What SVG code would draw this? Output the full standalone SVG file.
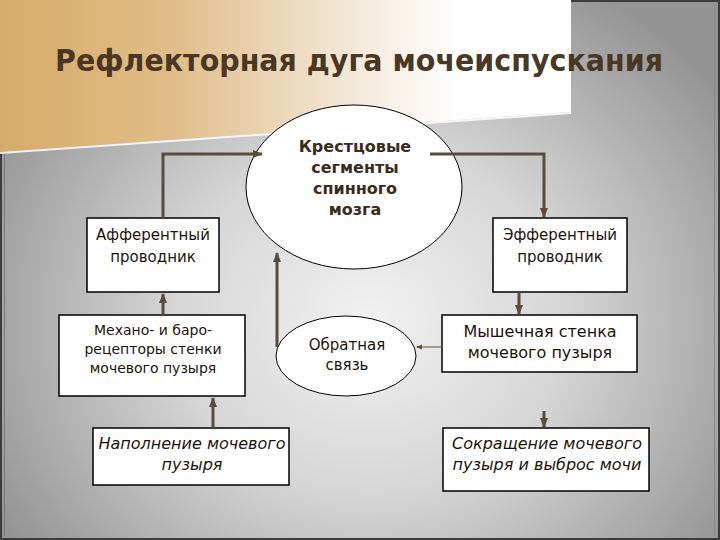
<svg xmlns="http://www.w3.org/2000/svg" width="720" height="540" viewBox="0 0 720 540">
<defs>
<radialGradient id="bg" gradientUnits="userSpaceOnUse" cx="370" cy="320" r="430" gradientTransform="translate(370 320) scale(1 0.9) translate(-370 -320)">
<stop offset="0" stop-color="#f2f2f2"/>
<stop offset="0.45" stop-color="#d6d6d6"/>
<stop offset="1" stop-color="#949494"/>
</radialGradient>
<linearGradient id="tan" x1="0" y1="0" x2="571" y2="0" gradientUnits="userSpaceOnUse">
<stop offset="0" stop-color="#d8ab68"/>
<stop offset="0.3" stop-color="#e0bd88"/>
<stop offset="0.6" stop-color="#f2e6d4"/>
<stop offset="0.8" stop-color="#ffffff"/>
<stop offset="1" stop-color="#ffffff"/>
</linearGradient>
<marker id="ah" markerUnits="userSpaceOnUse" markerWidth="10" markerHeight="10" viewBox="0 0 10 10" refX="9" refY="5" orient="auto">
<path d="M0,1 L10,5 L0,9 Z" fill="#5a4c3b"/>
</marker>
<marker id="ahs" markerUnits="userSpaceOnUse" markerWidth="6" markerHeight="6" viewBox="0 0 6 6" refX="5" refY="3" orient="auto">
<path d="M0,0.5 L6,3 L0,5.5 Z" fill="#5a4c3b"/>
</marker>
<style>
.box{fill:#ffffff;stroke:#000000;stroke-width:1.5}
.ell{fill:#ffffff;stroke:#000000;stroke-width:1}
.t{font-family:"DejaVu Sans","Liberation Sans",sans-serif;font-size:15px;fill:#1c140c;text-anchor:middle}
.i{font-style:italic;font-size:16px}
.b{font-weight:bold;font-size:16px;fill:#3b2b1b}
.c{fill:none;stroke:#5a4c3b;stroke-width:3;marker-end:url(#ah)}
.thin{fill:none;stroke:#5a4c3b;stroke-width:1;marker-end:url(#ahs)}
</style>
</defs>
<rect x="0" y="0" width="720" height="540" fill="url(#bg)"/>
<rect x="1" y="1" width="718" height="538" fill="none" stroke="#3c3c3c" stroke-width="2"/>
<line x1="4.5" y1="150" x2="4.5" y2="536" stroke="#7a7a7a" stroke-width="1"/>
<line x1="714.5" y1="4" x2="714.5" y2="536" stroke="#8a8a8a" stroke-width="1"/>
<polygon points="0,0 571,0 571,112 0,152" fill="url(#tan)"/>
<line x1="0" y1="153" x2="571" y2="113" stroke="#ffffff" stroke-width="2" opacity="0.85"/>
<text x="359" y="71" font-family="DejaVu Sans, Liberation Sans, sans-serif" font-weight="bold" font-size="30" fill="#4a3724" text-anchor="middle" textLength="608" lengthAdjust="spacingAndGlyphs">Рефлекторная дуга мочеиспускания</text>

<g id="spinal">
<ellipse class="ell" cx="354" cy="187" rx="108" ry="82"/>
<text class="t b" x="355" y="152">Крестцовые</text>
<text class="t b" x="355" y="173">сегменты</text>
<text class="t b" x="355" y="194">спинного</text>
<text class="t b" x="355" y="215">мозга</text>
</g>
<g id="afferent">
<rect class="box" x="87" y="218" width="132" height="74"/>
<text class="t" x="153" y="240">Афферентный</text>
<text class="t" x="153" y="262">проводник</text>
</g>
<g id="efferent">
<rect class="box" x="493" y="218" width="134" height="74"/>
<text class="t" x="560" y="240">Эфферентный</text>
<text class="t" x="560" y="262">проводник</text>
</g>
<g id="receptors">
<rect class="box" x="59" y="315" width="186" height="81"/>
<text class="t" x="153" y="335" style="font-size:14px">Механо- и баро-</text>
<text class="t" x="153" y="354" style="font-size:14px">рецепторы стенки</text>
<text class="t" x="153" y="373" style="font-size:14px">мочевого пузыря</text>
</g>
<g id="feedback">
<ellipse class="ell" cx="346" cy="356" rx="70" ry="40"/>
<text class="t" x="347" y="350">Обратная</text>
<text class="t" x="347" y="370">связь</text>
</g>
<g id="muscle">
<rect class="box" x="442" y="315" width="195" height="57"/>
<text class="t" x="540" y="337" style="font-size:16px">Мышечная стенка</text>
<text class="t" x="540" y="358" style="font-size:16px">мочевого пузыря</text>
</g>
<g id="filling">
<rect class="box" x="93" y="428" width="196" height="57"/>
<text class="t i" x="192" y="449">Наполнение мочевого</text>
<text class="t i" x="192" y="470">пузыря</text>
</g>
<g id="contraction">
<rect class="box" x="443" y="428" width="206" height="63"/>
<text class="t i" x="547" y="449">Сокращение мочевого</text>
<text class="t i" x="547" y="470">пузыря и выброс мочи</text>
</g>

<g id="connectors">
<path class="c" d="M163,218 V154 H262"/>
<path class="c" d="M430,154 H544 V217"/>
<path class="c" d="M277,347 V253"/>
<path class="c" d="M163,315 V294"/>
<path class="c" d="M213,428 V398"/>
<path class="c" d="M519,292 V314"/>
<path class="c" d="M544,411 V427"/>
<path class="thin" d="M442,347 H417"/>
</g>
</svg>
